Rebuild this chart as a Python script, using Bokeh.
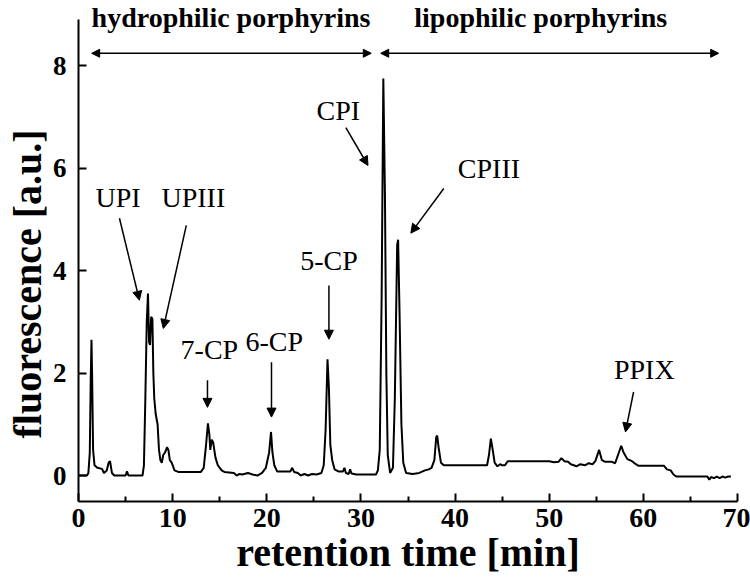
from bokeh.plotting import figure
from bokeh.models import Label, Arrow, NormalHead, Range1d, FixedTicker, Title
from bokeh.embed import file_html
from bokeh.resources import INLINE

# ---- data ----
time_min = [0.0, 0.9, 1.05, 1.2, 1.3, 1.38, 1.45, 1.55, 1.7, 2.0, 2.5, 2.7, 3.0, 3.2, 3.35, 3.55, 3.8,
            5.0, 5.15, 5.3, 6.8, 6.95, 7.1, 7.25, 7.38, 7.5, 7.6, 7.72, 7.85, 7.95, 8.05, 8.2, 8.4,
            8.55, 8.7, 8.85, 9.0, 9.2, 9.4, 9.55, 9.7, 9.9, 10.2, 10.6, 13.0, 13.3, 13.55, 13.75,
            13.9, 14.0, 14.15, 14.3, 14.55, 14.8, 15.2, 15.5, 16.5, 16.8, 17.1, 17.4, 18.0, 18.5,
            19.0, 19.5, 19.9, 20.25, 20.45, 20.6, 20.8, 21.1, 22.5, 22.7, 22.9, 23.3, 23.6, 24.0,
            24.4, 24.8, 25.3, 25.8, 26.05, 26.25, 26.45, 26.6, 26.75, 26.95, 27.2, 27.6, 28.1,
            28.25, 28.4, 28.7, 28.85, 29.0, 29.5, 31.6, 31.8, 32.0, 32.2, 32.38, 32.55, 32.7, 32.85,
            33.1, 33.4, 33.6, 33.85, 33.95, 34.1, 34.3, 34.5, 34.8, 35.5, 36.2, 36.8, 37.2, 37.5,
            37.8, 38.0, 38.1, 38.25, 38.5, 38.8, 43.4, 43.6, 43.8, 44.0, 44.2, 44.5, 44.8, 45.0,
            45.3, 45.6, 50.0, 50.5, 51.0, 51.3, 51.6, 52.0, 52.3, 52.6, 52.9, 53.3, 53.8, 54.2,
            54.6, 54.9, 55.3, 55.6, 55.9, 56.6, 57.0, 57.4, 57.65, 57.9, 58.3, 58.8, 59.2, 59.5,
            62.2, 62.5, 62.9, 63.2, 63.5, 66.8, 67.0, 67.2, 67.5, 67.8, 68.1, 68.4, 68.7, 69.0, 69.3]
fluorescence = [0.0, 0.0, 0.05, 0.45, 1.9, 2.65, 1.9, 0.5, 0.2, 0.15, 0.13, 0.05, 0.1, 0.25, 0.28, 0.05, 0.0,
                0.0, 0.08, 0.0, 0.0, 0.2, 1.5, 3.0, 3.55, 2.6, 2.55, 3.1, 3.05, 2.0, 1.5, 1.2, 1.0,
                0.5, 0.3, 0.25, 0.4, 0.45, 0.55, 0.5, 0.3, 0.25, 0.1, 0.07, 0.07, 0.15, 0.6, 1.02,
                0.8, 0.5, 0.7, 0.65, 0.35, 0.2, 0.1, 0.07, 0.05, 0.0, 0.03, 0.02, 0.05, 0.02,
                0.0, 0.05, 0.15, 0.45, 0.85, 0.45, 0.2, 0.08, 0.08, 0.15, 0.07, 0.05, 0.0, 0.03,
                0.0, 0.03, 0.02, 0.05, 0.2, 0.9, 2.27, 1.7, 0.6, 0.3, 0.12, 0.08, 0.08,
                0.15, 0.05, 0.03, 0.12, 0.04, 0.02, 0.02, 0.1, 0.5, 3.5, 7.75, 5.5, 2.0, 0.4,
                0.05, 0.15, 1.5, 4.5, 4.6, 3.2, 1.0, 0.25, 0.05, 0.03, 0.05, 0.1, 0.12, 0.15,
                0.3, 0.75, 0.78, 0.55, 0.25, 0.2, 0.2, 0.4, 0.72, 0.5, 0.25, 0.18, 0.22, 0.2,
                0.2, 0.28, 0.28, 0.26, 0.27, 0.34, 0.28, 0.27, 0.22, 0.2, 0.18, 0.22, 0.2, 0.24,
                0.22, 0.28, 0.5, 0.3, 0.27, 0.27, 0.24, 0.45, 0.58, 0.45, 0.32, 0.28, 0.22, 0.19,
                0.19, 0.12, 0.1, 0.02, -0.02, -0.02, -0.08, -0.03, -0.05, -0.02, -0.05, -0.02, -0.04, -0.02, -0.02]

x_ticks = [0, 10, 20, 30, 40, 50, 60, 70]
x_minor_ticks = [5, 15, 25, 35, 45, 55, 65]
y_ticks = [0, 2, 4, 6, 8]

peak_names = ["UPI", "UPIII", "7-CP", "6-CP", "5-CP", "CPI", "CPIII", "PPIX"]
label_x = [4.2, 12.2, 13.9, 20.8, 26.6, 27.6, 43.6, 60.1]
label_y = [5.43, 5.43, 2.45, 2.61, 4.2, 7.13, 6.0, 2.06]
arrow_x0 = [4.35, 11.45, 13.7, 20.5, 26.6, 28.4, 38.8, 58.96]
arrow_y0 = [5.02, 4.88, 1.86, 2.21, 3.71, 6.79, 5.6, 1.63]
arrow_x1 = [6.47, 9.01, 13.7, 20.5, 26.6, 30.75, 35.3, 58.1]
arrow_y1 = [3.42, 2.87, 1.33, 1.14, 2.66, 6.05, 4.73, 0.85]

region_names = ["hydrophilic porphyrins", "lipophilic porphyrins"]
region_x0 = [1.4, 32.1]
region_x1 = [31.1, 68.0]
region_label_x = [16.2, 49.1]

SERIF = "Liberation Serif"

p = figure(width=750, height=583, output_backend="svg", toolbar_location=None,
           x_range=Range1d(0, 70), y_range=Range1d(-0.507, 9.27),
           min_border_left=78, min_border_right=13, min_border_top=0, min_border_bottom=82)
p.outline_line_color = None
p.xgrid.visible = False
p.ygrid.visible = False
p.background_fill_color = "white"
p.border_fill_color = "white"

p.line(time_min, fluorescence, line_color="black", line_width=2)

for ax in (p.xaxis[0], p.yaxis[0]):
    ax.axis_line_width = 2
    ax.axis_line_color = "black"
    ax.major_tick_line_width = 2
    ax.minor_tick_line_width = 2
    ax.major_tick_in = 8
    ax.major_tick_out = 0
    ax.major_label_text_font = SERIF
    ax.major_label_text_font_style = "bold"
    ax.major_label_text_color = "black"

p.yaxis.bounds = (-0.507, 8.9)

p.xaxis.ticker = FixedTicker(ticks=x_ticks, minor_ticks=x_minor_ticks)
p.xaxis.minor_tick_in = 5
p.xaxis.minor_tick_out = 0
p.xaxis.major_label_text_font_size = "28px"
p.xaxis.major_label_standoff = 7
p.xaxis.axis_label = "retention time [min]"
p.xaxis.axis_label_text_font = SERIF
p.xaxis.axis_label_text_font_style = "bold"
p.xaxis.axis_label_text_font_size = "40px"
p.xaxis.axis_label_text_color = "black"
p.xaxis.axis_label_standoff = 0

p.yaxis.ticker = FixedTicker(ticks=y_ticks)
p.yaxis.minor_tick_in = 0
p.yaxis.minor_tick_out = 0
p.yaxis.major_label_text_font_size = "27px"
p.yaxis.major_label_standoff = 12

p.add_layout(Title(text="fluorescence [a.u.]", align="left", offset=63, standoff=0,
                   text_font=SERIF, text_font_style="bold", text_font_size="40px",
                   text_color="black"), "left")

# region labels and double arrows
for name, x0, x1, lx in zip(region_names, region_x0, region_x1, region_label_x):
    p.add_layout(Label(x=lx, y=8.94, text=name, text_align="center", text_baseline="alphabetic",
                       text_font=SERIF, text_font_style="bold", text_font_size="28px",
                       text_color="black"))
    p.add_layout(Arrow(x_start=x0, y_start=8.24, x_end=x1, y_end=8.24, line_width=1.5,
                       start=NormalHead(size=8, fill_color="black", line_color="black"),
                       end=NormalHead(size=8, fill_color="black", line_color="black")))

# peak labels and arrows
for name, lx, ly, ax0, ay0, ax1, ay1 in zip(peak_names, label_x, label_y,
                                             arrow_x0, arrow_y0, arrow_x1, arrow_y1):
    p.add_layout(Label(x=lx, y=ly, text=name, text_align="center", text_baseline="alphabetic",
                       text_font=SERIF, text_font_size="28px", text_color="black"))
    p.add_layout(Arrow(x_start=ax0, y_start=ay0, x_end=ax1, y_end=ay1, line_width=1.5,
                       end=NormalHead(size=9, fill_color="black", line_color="black")))

open("out.html", "w").write(file_html(p, INLINE))
